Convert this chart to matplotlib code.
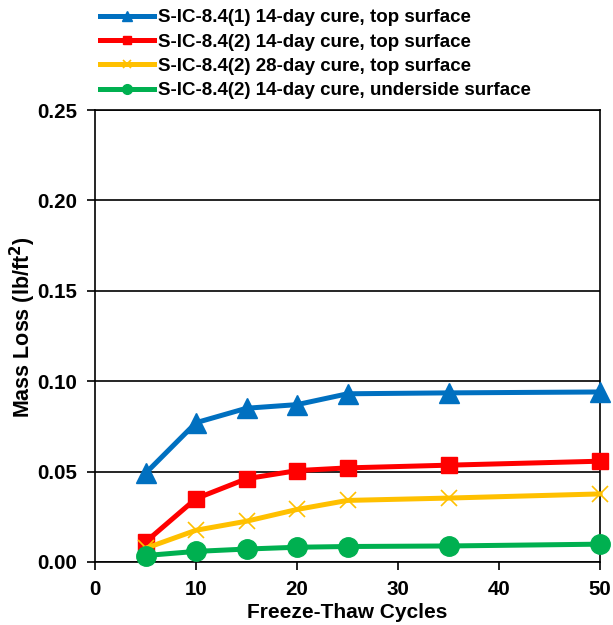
import numpy as np
import matplotlib
matplotlib.use("Agg")
import matplotlib.pyplot as plt

plt.rcParams['font.family'] = ['Liberation Sans', 'DejaVu Sans']
plt.rcParams['font.weight'] = 'bold'

cycles = [5, 10, 15, 20, 25, 35, 50]
s1_14_top = [0.049, 0.077, 0.085, 0.087, 0.093, 0.0935, 0.094]
s2_14_top = [0.011, 0.035, 0.046, 0.0505, 0.052, 0.0535, 0.0557]
s2_28_top = [0.0075, 0.0175, 0.0225, 0.029, 0.034, 0.0353, 0.0376]
s2_14_under = [0.0035, 0.0058, 0.0071, 0.0081, 0.0085, 0.0088, 0.0098]

labels = ['S-IC-8.4(1) 14-day cure, top surface',
          'S-IC-8.4(2) 14-day cure, top surface',
          'S-IC-8.4(2) 28-day cure, top surface',
          'S-IC-8.4(2) 14-day cure, underside surface']

fig = plt.figure(figsize=(6.13, 6.25), dpi=100)
ax = fig.add_axes([0.155, 0.101, 0.824, 0.723])

ax.plot(cycles, s1_14_top, color='#0070C0', lw=3.6, marker='^', ms=14, label=labels[0], clip_on=False, zorder=5)
ax.plot(cycles, s2_14_top, color='#FF0000', lw=3.6, marker='s', ms=11.5, label=labels[1], clip_on=False, zorder=5)
ax.plot(cycles, s2_28_top, color='#FFC000', lw=3.6, marker='x', ms=12, mew=1.2, label=labels[2], clip_on=False, zorder=5)
ax.plot(cycles, s2_14_under, color='#00B050', lw=3.6, marker='o', ms=14, label=labels[3], clip_on=False, zorder=5)

ax.set_xlim(0, 50)
ax.set_ylim(0, 0.25)
ax.set_xticks(np.arange(0, 51, 10))
ax.set_yticks(np.arange(0, 0.26, 0.05))
ax.set_yticklabels(['%.2f' % v for v in np.arange(0, 0.26, 0.05)])
ax.yaxis.grid(True, color='black', lw=1.2)
ax.set_axisbelow(True)
for sp in ax.spines.values():
    sp.set_color('black')
    sp.set_linewidth(1.2)
ax.tick_params(direction='out', length=6, width=1.2, labelsize=14.8)
ax.tick_params(axis='y', pad=7)
ax.tick_params(axis='x', pad=7)

ax.set_xlabel('Freeze-Thaw Cycles', fontsize=15, fontweight='bold', labelpad=3)
ax.set_ylabel('Mass Loss (lb/ft$^\\mathbf{2}$)', fontsize=15.5, fontweight='bold')
ax.yaxis.set_label_coords(-0.113, 0.52)

fig.legend(loc='upper left', bbox_to_anchor=(0.148, 1.0), frameon=False, fontsize=13.5,
           handlelength=2.9, markerscale=0.5, labelspacing=0.38, handletextpad=0.2,
           borderaxespad=0.1)

fig.savefig('out.png', dpi=100)
